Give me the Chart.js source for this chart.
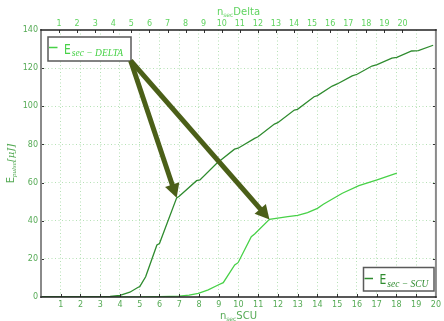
<!DOCTYPE html>
<html>
<head>
<meta charset="utf-8">
<script src="https://cdn.jsdelivr.net/npm/chart.js@4/dist/chart.umd.min.js"></script>
<style>
  html, body { margin: 0; padding: 0; background: #fff; }
  #wrap { width: 444px; height: 321px; }
</style>
</head>
<body>
<div id="wrap"><canvas id="c" width="444" height="321"></canvas></div>
<script>
// Pulse energy versus number of sections (bottom axis: n_sec SCU)
const scuN = [0, 1, 2, 3, 3.5, 4, 4.5, 4.9, 5.0, 5.3, 5.6, 5.87, 6.0, 6.87, 7.0, 7.88, 8.05, 8.89, 9.0, 9.8,
  9.98, 10.82, 10.99, 11.82, 11.99, 12.83, 12.99, 13.83, 14.0, 14.75, 15.0, 15.76, 16.01, 16.76, 17.02, 17.77, 18.02, 18.77, 19.11, 19.86];
const scuEnergy = [0, 0, 0, 0.1, 0.3, 0.8, 2.5, 5.0, 5.4, 10.6, 19.4, 27.3, 28.0, 52.0, 52.8, 61.0, 61.4, 70.0, 70.9, 77.5,
  78.0, 83.2, 84.0, 90.7, 91.4, 98.0, 98.4, 105.0, 105.6, 110.6, 111.7, 115.9, 116.8, 121.1, 121.8, 125.2, 125.7, 129.0, 129.2, 132.0];

const deltaN = [0, 5, 6, 7, 7.5, 7.97, 8.47, 8.97, 9.23, 9.81, 9.98, 10.65, 10.82, 11.57, 11.99, 12.5, 13.0, 13.5, 14.0, 14.3,
  15.26, 16.1, 17.02, 18.02];
const deltaEnergy = [0, 0, 0.2, 0.5, 1.0, 1.9, 3.7, 6.3, 7.5, 16.8, 18.0, 31.6, 33.0, 40.7, 41.4, 42.1, 42.8, 44.2, 46.5, 48.6,
  54.4, 58.4, 61.4, 64.9];

// Tick labels
const yTicks = [0, 20, 40, 60, 80, 100, 120, 140];
const scuTicks = [1, 2, 3, 4, 5, 6, 7, 8, 9, 10, 11, 12, 13, 14, 15, 16, 17, 18, 19, 20];
const deltaTicks = [1, 2, 3, 4, 5, 6, 7, 8, 9, 10, 11, 12, 13, 14, 15, 16, 17, 18, 19, 20];

// Annotation arrows: start point and the data index they point at
const arrowStart = { x: 4.54, y: 123.9 };
const scuArrowIndex = 13;
const deltaArrowIndex = 13;

const DARK = '#2e8b2e';
const LIGHT = '#47d147';
const ARROW = '#4b5f18';
const TICK_DARK = '#55aa55';
const TICK_LIGHT = '#5fd35f';

function toPoints(xs, ys) { return xs.map((x, i) => ({ x, y: ys[i] })); }

function drawMath(ctx, parts, x, y) {
  // parts: [{text, font, dy}] drawn left to right from x on baseline y
  let cx = x;
  for (const p of parts) {
    ctx.font = p.font;
    const sx = p.sx || 1;
    ctx.save();
    ctx.translate(cx, y + (p.dy || 0));
    ctx.scale(sx, 1);
    ctx.fillText(p.text, 0, 0);
    ctx.restore();
    cx += ctx.measureText(p.text).width * sx;
  }
  return cx - x;
}
function measureMath(ctx, parts) {
  let w = 0;
  for (const p of parts) { ctx.font = p.font; w += ctx.measureText(p.text).width * (p.sx || 1); }
  return w;
}

function drawArrow(ctx, x0, y0, x1, y1) {
  const dx = x1 - x0, dy = y1 - y0;
  const len = Math.hypot(dx, dy);
  const ux = dx / len, uy = dy / len;
  const headLen = 14, headHalf = 7.5;
  const bx = x1 - ux * headLen, by = y1 - uy * headLen;
  ctx.save();
  ctx.strokeStyle = ARROW;
  ctx.fillStyle = ARROW;
  ctx.lineWidth = 5;
  ctx.lineCap = 'butt';
  ctx.beginPath();
  ctx.moveTo(x0, y0);
  ctx.lineTo(bx + ux * 2, by + uy * 2);
  ctx.stroke();
  ctx.beginPath();
  ctx.moveTo(x1, y1);
  ctx.lineTo(bx - uy * headHalf, by + ux * headHalf);
  ctx.lineTo(bx + uy * headHalf, by - ux * headHalf);
  ctx.closePath();
  ctx.fill();
  ctx.restore();
}

const decorations = {
  id: 'decorations',
  afterDraw(chart) {
    const ctx = chart.ctx;
    const a = chart.chartArea;
    const xs = chart.scales.x, xt = chart.scales.x2, ys = chart.scales.y;

    // inner tick marks
    ctx.save();
    ctx.strokeStyle = '#333';
    ctx.lineWidth = 1;
    ctx.beginPath();
    for (const v of yTicks.slice(1, -1)) {
      const py = Math.round(ys.getPixelForValue(v)) + 0.5;
      ctx.moveTo(a.left, py); ctx.lineTo(a.left + 3, py);
      ctx.moveTo(a.right, py); ctx.lineTo(a.right - 3, py);
    }
    for (const v of scuTicks) {
      if (v >= 20) continue;
      const px = Math.round(xs.getPixelForValue(v)) + 0.5;
      ctx.moveTo(px, a.bottom); ctx.lineTo(px, a.bottom - 3);
    }
    for (const v of deltaTicks) {
      const px = Math.round(xt.getPixelForValue(v)) + 0.5;
      ctx.moveTo(px, a.top); ctx.lineTo(px, a.top + 3);
    }
    ctx.stroke();

    // frame
    ctx.lineCap = 'square';
    ctx.strokeStyle = '#8a8a8a';
    ctx.lineWidth = 2;
    ctx.beginPath();
    ctx.moveTo(a.left, a.top); ctx.lineTo(a.left, a.bottom);
    ctx.moveTo(a.right, a.top); ctx.lineTo(a.right, a.bottom);
    ctx.stroke();
    ctx.strokeStyle = '#222';
    ctx.lineWidth = 1.5;
    ctx.beginPath();
    ctx.moveTo(a.left, a.top); ctx.lineTo(a.right, a.top);
    ctx.moveTo(a.left, a.bottom); ctx.lineTo(a.right, a.bottom);
    ctx.stroke();
    ctx.restore();

    // axis titles
    ctx.save();
    ctx.textBaseline = 'alphabetic';
    const cx = (a.left + a.right) / 2;
    const topTitle = [
      { text: 'n', font: '10px "DejaVu Sans"' },
      { text: 'sec', font: '6px "DejaVu Sans"', dy: 2 },
      { text: 'Delta', font: '10px "DejaVu Sans"' }
    ];
    ctx.fillStyle = TICK_LIGHT;
    drawMath(ctx, topTitle, cx - measureMath(ctx, topTitle) / 2, 15);
    const botTitle = [
      { text: 'n', font: '10px "DejaVu Sans"' },
      { text: 'sec', font: '6px "DejaVu Sans"', dy: 2 },
      { text: 'SCU', font: '10px "DejaVu Sans"' }
    ];
    ctx.fillStyle = TICK_DARK;
    drawMath(ctx, botTitle, cx - measureMath(ctx, botTitle) / 2, 319);

    const yTitle = [
      { text: 'E', font: '10px "DejaVu Sans"' },
      { text: 'pulse', font: 'italic 7px "Liberation Serif"', dy: 2 },
      { text: '[\u03BCJ]', font: 'italic 10px "DejaVu Serif"' }
    ];
    ctx.translate(13.5, (a.top + a.bottom) / 2);
    ctx.rotate(-Math.PI / 2);
    drawMath(ctx, yTitle, -measureMath(ctx, yTitle) / 2, 0);
    ctx.restore();

    // legend boxes
    ctx.save();
    ctx.fillStyle = '#fff';
    ctx.strokeStyle = '#5a5a5a';
    ctx.lineWidth = 1.5;
    ctx.fillRect(48, 37, 83, 24);
    ctx.strokeRect(48, 37, 83, 24);
    ctx.fillRect(363.5, 267.5, 70.5, 23.5);
    ctx.strokeRect(363.5, 267.5, 70.5, 23.5);

    ctx.lineWidth = 1.5;
    ctx.strokeStyle = LIGHT;
    ctx.beginPath(); ctx.moveTo(49, 47.5); ctx.lineTo(57.5, 47.5); ctx.stroke();
    ctx.strokeStyle = DARK;
    ctx.beginPath(); ctx.moveTo(364.5, 278.5); ctx.lineTo(373, 278.5); ctx.stroke();

    ctx.fillStyle = LIGHT;
    drawMath(ctx, [
      { text: 'E', font: '14.5px "DejaVu Sans"', sx: 0.74 },
      { text: ' ', font: '3px "DejaVu Sans"' },
      { text: 'sec \u2212 DELTA', font: 'italic 9.5px "Liberation Serif"', dy: 2 }
    ], 64, 53.5);
    ctx.fillStyle = DARK;
    drawMath(ctx, [
      { text: 'E', font: '14.5px "DejaVu Sans"', sx: 0.74 },
      { text: ' ', font: '3px "DejaVu Sans"' },
      { text: 'sec \u2212 SCU', font: 'italic 9.5px "Liberation Serif"', dy: 3 }
    ], 379.5, 284);
    ctx.restore();

    // arrows
    const sx0 = xs.getPixelForValue(arrowStart.x), sy0 = ys.getPixelForValue(arrowStart.y);
    drawArrow(ctx, sx0, sy0, xs.getPixelForValue(scuN[scuArrowIndex]), ys.getPixelForValue(scuEnergy[scuArrowIndex]));
    drawArrow(ctx, sx0, sy0, xs.getPixelForValue(deltaN[deltaArrowIndex]), ys.getPixelForValue(deltaEnergy[deltaArrowIndex]));
  }
};

const tickFont = { family: 'DejaVu Sans', size: 8 };

new Chart(document.getElementById('c'), {
  type: 'line',
  data: {
    datasets: [
      {
        label: 'E sec-SCU',
        data: toPoints(scuN, scuEnergy),
        borderColor: DARK,
        borderWidth: 1.3,
        pointRadius: 0,
        tension: 0,
        fill: false,
        xAxisID: 'x',
        yAxisID: 'y'
      },
      {
        label: 'E sec-DELTA',
        data: toPoints(deltaN, deltaEnergy),
        borderColor: LIGHT,
        borderWidth: 1.3,
        pointRadius: 0,
        tension: 0,
        fill: false,
        xAxisID: 'x',
        yAxisID: 'y'
      }
    ]
  },
  options: {
    responsive: false,
    animation: false,
    devicePixelRatio: 1,
    layout: { padding: { left: 0, right: 5, top: 0, bottom: 0 } },
    plugins: { legend: { display: false }, tooltip: { enabled: false }, title: { display: false } },
    scales: {
      x: {
        type: 'linear',
        position: 'bottom',
        min: 0,
        max: 20,
        afterFit(s) { s.height = 24; },
        afterBuildTicks(s) { s.ticks = [0].concat(scuTicks).map(v => ({ value: v })); },
        ticks: {
          font: tickFont,
          color: TICK_DARK,
          padding: 3,
          maxRotation: 0,
          autoSkip: false,
          callback: (v) => (v === 0 ? '' : String(v))
        },
        grid: {
          drawTicks: false,
          color: (c) => (c.tick && (c.tick.value === 0 || c.tick.value === 20) ? 'rgba(0,0,0,0)' : 'rgba(120,200,120,0.55)'),
          lineWidth: 1
        },
        border: { display: false, dash: [1, 2.5] }
      },
      x2: {
        type: 'linear',
        position: 'top',
        min: 0,
        max: 21.85,
        afterFit(s) { s.height = 30; },
        afterBuildTicks(s) { s.ticks = deltaTicks.map(v => ({ value: v })); },
        ticks: {
          font: tickFont,
          color: TICK_LIGHT,
          padding: 1.5,
          maxRotation: 0,
          autoSkip: false,
          callback: (v) => String(v)
        },
        grid: { display: false, drawTicks: false },
        border: { display: false }
      },
      y: {
        type: 'linear',
        position: 'left',
        min: 0,
        max: 140,
        afterFit(s) { s.width = 41; },
        afterBuildTicks(s) { s.ticks = yTicks.map(v => ({ value: v })); },
        ticks: {
          font: tickFont,
          color: TICK_DARK,
          padding: 3,
          callback: (v) => String(v)
        },
        grid: {
          drawTicks: false,
          color: (c) => (c.tick && (c.tick.value === 0 || c.tick.value === 140) ? 'rgba(0,0,0,0)' : 'rgba(120,200,120,0.55)'),
          lineWidth: 1
        },
        border: { display: false, dash: [1, 2.5] }
      }
    }
  },
  plugins: [decorations]
});
</script>
</body>
</html>
